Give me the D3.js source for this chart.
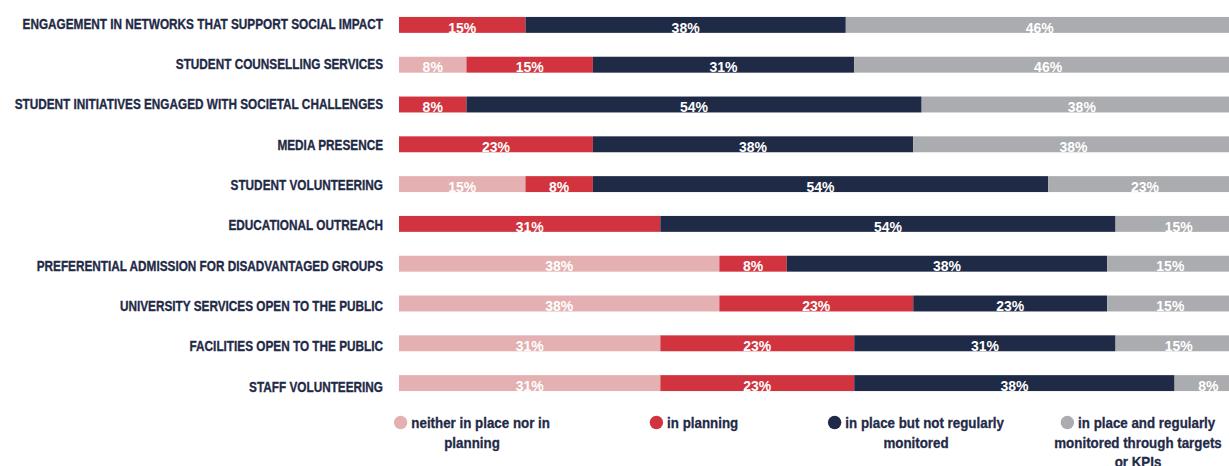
<!DOCTYPE html>
<html>
<head>
<meta charset="utf-8">
<script src="https://cdn.jsdelivr.net/npm/d3@7"></script>
<style>
  html, body { margin: 0; padding: 0; background: #ffffff; }
  svg { display: block; }
  .cat { font-family: "Liberation Sans", Arial, sans-serif; font-weight: bold; font-size: 15.4px; fill: #1f2a47; stroke: #1f2a47; stroke-width: 0.35px; }
  .val { font-family: "Liberation Sans", Arial, sans-serif; font-weight: bold; font-size: 15.3px; fill: #ffffff; }
  .leg { font-family: "Liberation Sans", Arial, sans-serif; font-weight: bold; font-size: 15px; fill: #1f2a47; stroke: #1f2a47; stroke-width: 0.3px; }
</style>
</head>
<body>
<svg id="chart" width="1229" height="466"></svg>
<script>
// Activity categories, top to bottom
const categories = [
  "ENGAGEMENT IN NETWORKS THAT SUPPORT SOCIAL IMPACT",
  "STUDENT COUNSELLING SERVICES",
  "STUDENT INITIATIVES ENGAGED WITH SOCIETAL CHALLENGES",
  "MEDIA PRESENCE",
  "STUDENT VOLUNTEERING",
  "EDUCATIONAL OUTREACH",
  "PREFERENTIAL ADMISSION FOR DISADVANTAGED GROUPS",
  "UNIVERSITY SERVICES OPEN TO THE PUBLIC",
  "FACILITIES OPEN TO THE PUBLIC",
  "STAFF VOLUNTEERING"
];

// Share of institutions (%) per status, one array per status
const notInPlace   = [0, 8, 0, 0, 15, 0, 38, 38, 31, 31];
const inPlanning   = [15, 15, 8, 23, 8, 31, 8, 23, 23, 23];
const notMonitored = [38, 31, 54, 38, 54, 54, 38, 23, 31, 38];
const monitored    = [46, 46, 38, 38, 23, 15, 15, 15, 15, 8];

const seriesKeys = ["notInPlace", "inPlanning", "notMonitored", "monitored"];
const seriesLabels = [
  ["neither in place nor in", "planning"],
  ["in planning"],
  ["in place but not regularly", "monitored"],
  ["in place and regularly", "monitored through targets", "or KPIs"]
];
const seriesColors = ["#e4b0b1", "#d1343e", "#1f2a47", "#aaacaf"];

const rows = categories.map((c, i) => ({
  category: c,
  notInPlace: notInPlace[i],
  inPlanning: inPlanning[i],
  notMonitored: notMonitored[i],
  monitored: monitored[i]
}));

// Horizontal squeeze applied to text to get a condensed face
const catSqueeze = 0.765, valSqueeze = 0.915, legSqueeze = 0.89;

const svg = d3.select("#chart");

const x = d3.scaleLinear().domain([0, 100]).range([399, 1242]);
const y = d3.scaleBand().domain(categories).range([5, 403])
  .paddingInner(0.6).paddingOuter(0.3);
// Baselines of the category names
const yLabel = d3.scalePoint().domain(categories).range([28.3, 391]);
const color = d3.scaleOrdinal().domain(seriesKeys).range(seriesColors);

const stacked = d3.stack().keys(seriesKeys)(rows);

const layers = svg.append("g").selectAll("g")
  .data(stacked)
  .join("g")
  .attr("fill", d => color(d.key));

layers.selectAll("rect")
  .data(d => d.filter(s => s[1] - s[0] > 0))
  .join("rect")
  .attr("x", d => x(d[0]))
  .attr("y", d => y(d.data.category))
  .attr("width", d => x(d[1]) - x(d[0]))
  .attr("height", y.bandwidth());

// Percentage labels inside each segment
layers.selectAll("text")
  .data(d => d.filter(s => s[1] - s[0] > 0))
  .join("text")
  .attr("class", "val")
  .attr("text-anchor", "middle")
  .attr("transform", d =>
    `translate(${(x(d[0]) + x(d[1])) / 2},${y(d.data.category) + y.bandwidth() - 0.3}) scale(${valSqueeze},1)`)
  .text(d => (d[1] - d[0]) + "%");

// Category axis on the left
const yAxis = d3.axisLeft(yLabel).tickSize(0).tickPadding(0);
const ag = svg.append("g").attr("transform", "translate(383,0)").call(yAxis);
ag.select(".domain").remove();
ag.selectAll(".tick text")
  .attr("class", "cat")
  .attr("x", 0).attr("y", 0).attr("dy", null)
  .attr("text-anchor", "end")
  .attr("transform", `scale(${catSqueeze},1)`);

// Legend beneath the bars
const legX = d3.scalePoint().domain(seriesKeys).range([472, 1138]);
const legY = 428.3, lineH = 19.5, r = 6.7, gap = 4;

seriesKeys.forEach((k, i) => {
  const g = svg.append("g").attr("transform", `translate(${legX(k)},0)`);
  const first = g.append("text").attr("class", "leg").text(seriesLabels[i][0]);
  const w = first.node().getComputedTextLength() * legSqueeze;
  const total = 2 * r + gap + w;
  const left = -total / 2;
  g.append("circle").attr("cx", left + r).attr("cy", legY - 5.8).attr("r", r)
    .attr("fill", color(k));
  first.attr("transform", `translate(${left + 2 * r + gap},${legY}) scale(${legSqueeze},1)`);
  seriesLabels[i].slice(1).forEach((line, j) => {
    g.append("text").attr("class", "leg").attr("text-anchor", "middle")
      .attr("transform", `translate(0,${legY + lineH * (j + 1)}) scale(${legSqueeze},1)`)
      .text(line);
  });
});
</script>
</body>
</html>
